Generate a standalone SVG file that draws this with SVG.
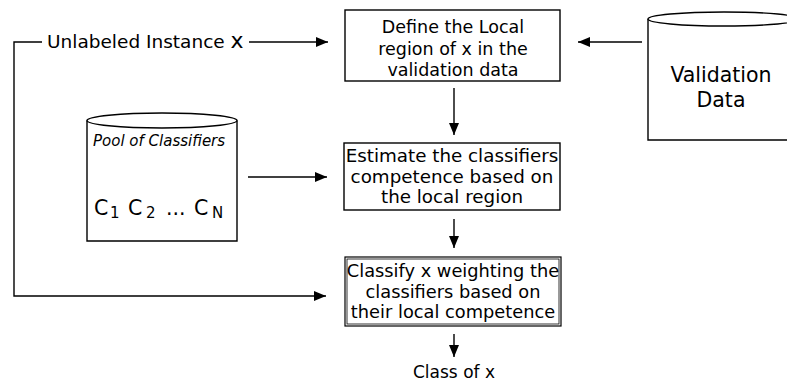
<svg xmlns="http://www.w3.org/2000/svg" width="787" height="383" viewBox="0 0 787 383">
<defs>
<style>
text{font-family:"DejaVu Sans","Liberation Sans",sans-serif;fill:#000;}
.t{font-size:17.5px;text-anchor:middle;}
.box{fill:#fff;stroke:#000;stroke-width:1.4;}
.cyl{fill:#fff;stroke:#000;stroke-width:1.4;}
.ln{fill:none;stroke:#000;stroke-width:1.4;}
</style>
<marker id="ah" viewBox="0 0 12 10" refX="12" refY="5" markerWidth="13" markerHeight="10" markerUnits="userSpaceOnUse" orient="auto">
<path d="M0,0 L12,5 L0,10 Z" fill="#000"/>
</marker>
</defs>
<rect width="787" height="383" fill="#fff"/>

<g id="connectors">
<polyline class="ln" points="42,42 14,42 14,296 326,296" marker-end="url(#ah)"/>
<line class="ln" x1="249" y1="42" x2="328" y2="42" marker-end="url(#ah)"/>
<line class="ln" x1="642" y1="42" x2="578" y2="42" marker-end="url(#ah)"/>
<line class="ln" x1="248" y1="177" x2="327" y2="177" marker-end="url(#ah)"/>
<line class="ln" x1="454" y1="88" x2="454" y2="135" marker-end="url(#ah)"/>
<line class="ln" x1="454" y1="219" x2="454" y2="248" marker-end="url(#ah)"/>
<line class="ln" x1="454" y1="334" x2="454" y2="357" marker-end="url(#ah)"/>
</g>

<g id="input">
<text x="47" y="48" style="font-size:18.5px">Unlabeled Instance <tspan style="font-size:22px">x</tspan></text>
</g>

<g id="define">
<rect class="box" x="345" y="10" width="215" height="71"/>
<text class="t" x="453" y="33">Define the Local</text>
<text class="t" x="453" y="55">region of x in the</text>
<text class="t" x="453" y="76">validation data</text>
</g>

<g id="validation">
<path class="cyl" d="M648,19 L648,140 L800,140 L800,19"/>
<ellipse class="cyl" cx="724" cy="19" rx="76" ry="7"/>
<text x="721" y="82" style="font-size:20.5px;text-anchor:middle">Validation</text>
<text x="721" y="107" style="font-size:20.5px;text-anchor:middle">Data</text>
</g>

<g id="pool">
<path class="cyl" d="M87,120.5 L87,241 L237,241 L237,120.5"/>
<ellipse class="cyl" cx="162" cy="120.5" rx="75" ry="7.5"/>
<text x="93" y="146" style="font-size:15px;font-style:italic">Pool of Classifiers</text>
<text x="94" y="215" style="font-size:20.5px">C</text>
<text x="110" y="218" style="font-size:15px">1</text>
<text x="128" y="215" style="font-size:20.5px">C</text>
<text x="146" y="218" style="font-size:15px">2</text>
<text x="166" y="215" style="font-size:20.5px">...</text>
<text x="194" y="215" style="font-size:20.5px">C</text>
<text x="212" y="218" style="font-size:15px">N</text>
</g>

<g id="estimate">
<rect class="box" x="344" y="143" width="216" height="67"/>
<text class="t" x="452" y="162" style="font-size:18.3px">Estimate the classifiers</text>
<text class="t" x="452" y="183" style="font-size:18.3px">competence based on</text>
<text class="t" x="452" y="203" style="font-size:18.3px">the local region</text>
</g>

<g id="classify">
<rect class="box" x="345" y="257" width="216" height="69" style="stroke-width:1.2"/>
<rect x="347" y="259" width="212" height="65" fill="none" stroke="#000" stroke-width="0.8"/>
<text class="t" x="453" y="277" style="font-size:17.8px">Classify x weighting the</text>
<text class="t" x="453" y="298" style="font-size:17.8px">classifiers based on</text>
<text class="t" x="453" y="318" style="font-size:17.8px">their local competence</text>
</g>

<g id="output">
<text class="t" x="454" y="378" style="font-size:17px">Class of x</text>
</g>
</svg>
